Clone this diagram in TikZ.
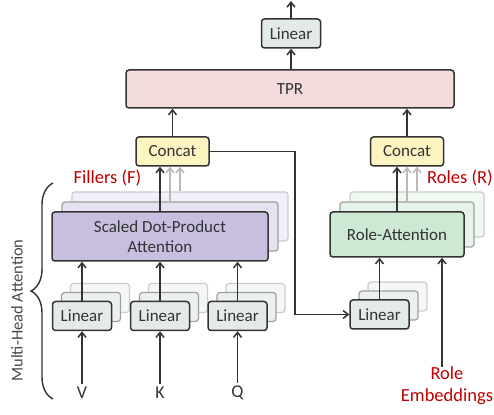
\documentclass[tikz,border=0pt]{standalone}
\usepackage{fontspec}
\setmainfont{Carlito}
\usetikzlibrary{arrows.meta,decorations.pathreplacing}
\definecolor{edge}{HTML}{333333}
\definecolor{redtext}{HTML}{C00000}
\definecolor{linfill}{HTML}{E4EBE7}
\definecolor{concatfill}{HTML}{FCF5C2}
\definecolor{tprfill}{HTML}{F2DCDC}
\definecolor{sdpafill}{HTML}{C8BFE0}
\definecolor{rafill}{HTML}{CDE8D3}
\tikzset{
  box/.style={draw=edge, line width=1.5pt, rounded corners=3pt, text=edge, inner sep=0pt, align=center, font=\fontsize{17}{20}\selectfont},
  linbox/.style={box, fill=linfill, minimum width=59pt, minimum height=29pt},
  ghosta/.style={draw=gray!75, line width=1.2pt, rounded corners=3pt, inner sep=0pt},
  ghostb/.style={draw=gray!40, line width=1.2pt, rounded corners=3pt, inner sep=0pt},
  arr/.style={-{Straight Barb[length=5pt,width=8pt]}, line width=1.5pt, draw=edge},
  garr/.style={arr, draw=gray!55},
  redlbl/.style={text=redtext, font=\fontsize{18.5}{22}\selectfont, inner sep=0pt, align=center},
  inlbl/.style={text=edge, font=\fontsize{18}{20}\selectfont, inner sep=3pt}
}
\begin{document}
\begin{tikzpicture}[x=1pt,y=1pt]
\useasboundingbox (0,0) rectangle (494,414);
% output side
\node[linbox] (lout) at (291,380.5) {Linear};
\coordinate (out) at (291,413);
\node[box, fill=tprfill, minimum width=328pt, minimum height=38pt] (tpr) at (290,325) {TPR};
\node[box, fill=concatfill, minimum width=73pt, minimum height=29pt] (cL) at (172.5,262.5) {Concat};
\node[box, fill=concatfill, minimum width=73pt, minimum height=29pt] (cR) at (407,262.5) {Concat};
% attention heads (ghost copies behind)
\node[ghostb, fill=sdpafill!25, minimum width=216pt, minimum height=49pt] (sd3) at (180,197.5) {};
\node[ghosta, fill=sdpafill!45, minimum width=216pt, minimum height=49pt] (sd2) at (170,187.5) {};
\node[box, fill=sdpafill, minimum width=216pt, minimum height=49pt] (sd) at (160,177.5) {Scaled Dot-Product\\Attention};
\node[ghostb, fill=rafill!30, minimum width=134pt, minimum height=45pt] (ra3) at (417,199.5) {};
\node[ghosta, fill=rafill!50, minimum width=134pt, minimum height=45pt] (ra2) at (407,189.5) {};
\node[box, fill=rafill, minimum width=134pt, minimum height=45pt] (ra) at (397,179.5) {Role-Attention};
% linear projections
\foreach \n/\x/\y in {lV/82/98, lK/160/98, lQ/237.5/98, lR/379.5/99.5}{
  \node[ghostb, fill=linfill!40, minimum width=59pt, minimum height=29pt] (\n3) at (\x+18,\y+18) {};
  \node[ghosta, fill=linfill!70, minimum width=59pt, minimum height=29pt] (\n2) at (\x+9,\y+9) {};
  \node[linbox] (\n) at (\x,\y) {Linear};
}
\node[inlbl] (V) at (82,21) {V};
\node[inlbl] (K) at (160,21) {K};
\node[inlbl] (Q) at (237.5,21) {Q};
\node[redlbl] (emb) at (447,28) {Role\\Embeddings};
\node[redlbl] (fl) at (107.5,236) {Fillers (F)};
\node[redlbl] (rl) at (460,236) {Roles (R)};
\node[text=edge!90, font=\fontsize{16.5}{18}\selectfont, rotate=90] (mha) at (17,103.5) {Multi-Head Attention};
\coordinate (bb) at (53,15);
\coordinate (bt) at (53,231);
\coordinate (turn) at (295,262.5);
% connectors
\draw[arr] (lout.north) -- (out);
\draw[arr] (lout.south |- tpr.north) -- (lout.south);
\draw[arr] (cL.north) -- (cL.north |- tpr.south);
\draw[arr] (cR.north) -- (cR.north |- tpr.south);
\draw[arr] (sd.north) -- (sd.north |- cL.south);
\draw[garr] (sd2.north) -- (sd2.north |- cL.south);
\draw[garr] (sd3.north) -- (sd3.north |- cL.south);
\draw[arr] (ra.north) -- (ra.north |- cR.south);
\draw[garr] (ra2.north) -- (ra2.north |- cR.south);
\draw[garr] (ra3.north) -- (ra3.north |- cR.south);
\draw[arr] (lV.north) -- (lV.north |- sd.south);
\draw[arr] (lK.north) -- (lK.north |- sd.south);
\draw[arr] (lQ.north) -- (lQ.north |- sd.south);
\draw[arr] (V.north) -- (lV.south);
\draw[arr] (K.north) -- (lK.south);
\draw[arr] (Q.north) -- (lQ.south);
\draw[arr] (cL.east) -- (turn) |- (lR.west);
\draw[arr] (lR.north) -- (lR.north |- ra.south);
\draw[arr] ([xshift=-5pt]emb.north) -- ([xshift=-5pt]emb.north |- ra.south);
\draw[edge, line width=1.4pt, decorate, decoration={brace, amplitude=22pt}] (bb) -- (bt);
\end{tikzpicture}
\end{document}
